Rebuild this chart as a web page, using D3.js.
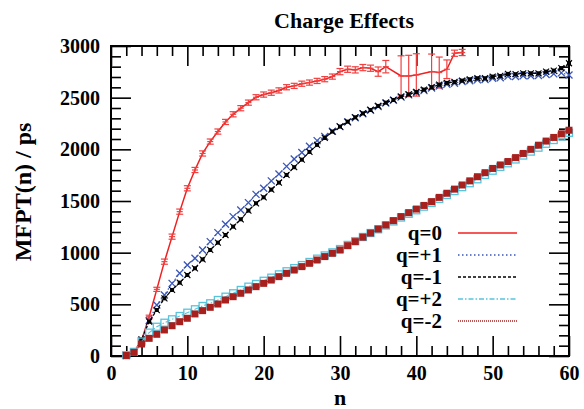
<!DOCTYPE html>
<html>
<head>
<meta charset="utf-8">
<script src="https://cdn.jsdelivr.net/npm/d3@7"></script>
<style>
  body { margin: 0; background: #fff; }
  text { font-family: "Liberation Serif", "DejaVu Serif", serif; font-weight: bold; }
</style>
</head>
<body>
<div id="chart"></div>
<script>
var width = 584, height = 409;
var margin = {top: 46, right: 15, bottom: 53, left: 111};

// n values shared by q=+1, -1, +2, -2
var nVals = [2,3,4,5,6,7,8,9,10,11,12,13,14,15,16,17,18,19,20,21,22,23,24,25,26,27,28,29,30,31,
  32,33,34,35,36,37,38,39,40,41,42,43,44,45,46,47,48,49,50,51,52,53,54,55,56,57,58,59,60];

// q=0 (with error bars)
var nQ0 = [2,3,4,5,6,7,8,9,10,11,12,13,14,15,16,17,18,19,20,21,22,23,24,25,26,27,28,29,30,31,
  32,33,34,35,36,38,39,40,42,43,44,45,46];
var q0 = [0,40,150,380,645,913,1155,1397,1623,1800,1960,2075,2172,2265,2339,2398,2452,2504,2530,2548,
  2570,2601,2614,2635,2646,2662,2679,2704,2752,2775,2769,2791,2785,2752,2800,2710,2710,2720,2752,2743,
  2775,2930,2937];
var q0Err = [5,8,10,15,20,25,25,25,25,25,25,25,25,25,25,25,25,25,25,25,
  25,25,25,25,25,25,25,25,30,30,30,30,30,45,60,195,200,205,170,150,
  90,30,30];

var qPlus1 = [5,35,150,345,494,590,703,800,881,946,1026,1107,1194,1275,1349,1413,1484,1564,1623,1695,
  1762,1835,1907,1970,2030,2084,2125,2175,2220,2265,2305,2345,2378,2415,2448,2475,2505,2527,2546,2568,
  2593,2613,2630,2640,2655,2663,2672,2675,2688,2693,2708,2705,2712,2712,2714,2725,2730,2740,2720];
var qMinus1 = [5,32,160,332,445,558,639,710,784,849,935,1026,1097,1171,1252,1323,1407,1478,1536,1610,
  1678,1752,1827,1900,1975,2043,2110,2172,2220,2268,2310,2348,2381,2420,2452,2478,2510,2532,2555,2578,
  2601,2626,2643,2652,2665,2678,2688,2688,2704,2710,2730,2727,2736,2736,2736,2752,2762,2785,2833];
var qPlus2 = [8,40,140,226,283,322,355,387,419,452,484,510,542,574,607,639,671,697,728,758,
  790,820,850,880,910,942,973,1003,1035,1075,1112,1152,1190,1226,1263,1302,1340,1376,1410,1445,
  1482,1520,1558,1596,1634,1672,1710,1752,1793,1830,1865,1902,1940,1978,2016,2054,2090,2125,2160];
var qMinus2 = [5,35,116,171,210,252,293,332,365,407,439,471,503,542,574,607,639,671,703,735,
  768,800,832,865,897,929,962,994,1026,1068,1107,1150,1190,1229,1268,1310,1349,1387,1422,1457,
  1494,1535,1575,1615,1655,1695,1735,1774,1815,1849,1882,1920,1960,2000,2040,2080,2115,2150,2185];

var xTicks = [0,10,20,30,40,50,60];
var yTicks = [0,500,1000,1500,2000,2500,3000];
var legendLabels = ["q=0","q=+1","q=-1","q=+2","q=-2"];

var svg = d3.select("#chart")
  .append("svg")
  .attr("width", width)
  .attr("height", height);

var xScale = d3.scaleLinear()
  .domain([0, 60])
  .range([margin.left, width - margin.right]);

var yScale = d3.scaleLinear()
  .domain([0, 3000])
  .range([height - margin.bottom, margin.top]);

var bigTick = 20, smallTick = 10;

// minor ticks, all four sides, pointing inward
function minorAxes() {
  var xMinor = d3.range(0, 61, 2).filter(d => d % 10 != 0);
  var yMinor = d3.range(0, 3001, 100).filter(d => d % 500 != 0);
  svg.append("g").attr("transform", `translate(0,${height - margin.bottom})`)
    .call(d3.axisBottom(xScale).tickValues(xMinor).tickSize(-smallTick).tickFormat(""));
  svg.append("g").attr("transform", `translate(0,${margin.top})`)
    .call(d3.axisTop(xScale).tickValues(xMinor).tickSize(-smallTick).tickFormat(""));
  svg.append("g").attr("transform", `translate(${margin.left},0)`)
    .call(d3.axisLeft(yScale).tickValues(yMinor).tickSize(-smallTick).tickFormat(""));
  svg.append("g").attr("transform", `translate(${width - margin.right},0)`)
    .call(d3.axisRight(yScale).tickValues(yMinor).tickSize(-smallTick).tickFormat(""));
}
minorAxes();

// major ticks
var xAxis = svg.append("g")
  .attr("class", "x-axis")
  .attr("transform", `translate(0,${height - margin.bottom})`)
  .call(d3.axisBottom(xScale).tickValues(xTicks).tickSize(-bigTick).tickPadding(10).tickFormat(d3.format("d")));
svg.append("g")
  .attr("transform", `translate(0,${margin.top})`)
  .call(d3.axisTop(xScale).tickValues(xTicks).tickSize(-bigTick).tickFormat(""));
var yAxis = svg.append("g")
  .attr("class", "y-axis")
  .attr("transform", `translate(${margin.left},0)`)
  .call(d3.axisLeft(yScale).tickValues(yTicks).tickSize(-bigTick).tickPadding(11).tickFormat(d3.format("d")));
svg.append("g")
  .attr("transform", `translate(${width - margin.right},0)`)
  .call(d3.axisRight(yScale).tickValues(yTicks).tickSize(-bigTick).tickFormat(""));

svg.selectAll(".tick line").attr("stroke", "#000").attr("stroke-width", 1.6);
svg.selectAll(".domain").remove();
svg.selectAll(".tick text")
  .style("font-size", "20px")
  .style("font-family", "'Liberation Serif', serif")
  .style("font-weight", "bold")
  .attr("fill", "#000");

// frame
svg.append("rect")
  .attr("x", margin.left)
  .attr("y", margin.top)
  .attr("width", width - margin.left - margin.right)
  .attr("height", height - margin.top - margin.bottom)
  .attr("fill", "none")
  .attr("stroke", "#000")
  .attr("stroke-width", 2);

// titles
svg.append("text")
  .attr("x", 344).attr("y", 28)
  .attr("text-anchor", "middle")
  .style("font-size", "22px")
  .text("Charge Effects");

svg.append("text")
  .attr("x", 340).attr("y", 405)
  .attr("text-anchor", "middle")
  .style("font-size", "22px")
  .text("n");

svg.append("text")
  .attr("transform", "translate(31,192) rotate(-90)")
  .attr("text-anchor", "middle")
  .style("font-size", "24px")
  .text("MFPT(n) / ps");

var plot = svg.append("g").attr("class", "lines");

function seriesLine(ns, vals) {
  return d3.line()
    .x((d, i) => xScale(ns[i]))
    .y(d => yScale(d))(vals);
}

// q=0 : solid red with error bars
var red = "#f02020";
plot.append("path")
  .attr("d", seriesLine(nQ0, q0))
  .attr("fill", "none")
  .attr("stroke", red)
  .attr("stroke-width", 1.5);

var errG = plot.append("g").attr("stroke", "#f04040").attr("stroke-width", 1.2);
q0.forEach(function(v, i) {
  var cx = xScale(nQ0[i]);
  var top = yScale(v + q0Err[i]), bot = yScale(v - q0Err[i]);
  errG.append("line").attr("x1", cx).attr("x2", cx).attr("y1", top).attr("y2", bot);
  errG.append("line").attr("x1", cx - 3.5).attr("x2", cx + 3.5).attr("y1", top).attr("y2", top);
  errG.append("line").attr("x1", cx - 3.5).attr("x2", cx + 3.5).attr("y1", bot).attr("y2", bot);
  errG.append("line").attr("x1", cx - 3).attr("x2", cx + 3).attr("y1", yScale(v)).attr("y2", yScale(v));
});

// q=+1 : blue dotted, x markers
var blue = "#3a56b8";
plot.append("path")
  .attr("d", seriesLine(nVals, qPlus1))
  .attr("fill", "none")
  .attr("stroke", blue)
  .attr("stroke-width", 1.2)
  .attr("stroke-dasharray", "1.5,2.5");
plot.append("g").selectAll("path")
  .data(qPlus1)
  .enter()
  .append("path")
  .attr("transform", (d, i) => `translate(${xScale(nVals[i])},${yScale(d)})`)
  .attr("d", "M-3.5,-3.5L3.5,3.5M-3.5,3.5L3.5,-3.5")
  .attr("stroke", blue)
  .attr("stroke-width", 1.3);

// q=-1 : black dashed, small filled markers
plot.append("path")
  .attr("d", seriesLine(nVals, qMinus1))
  .attr("fill", "none")
  .attr("stroke", "#000")
  .attr("stroke-width", 1.2)
  .attr("stroke-dasharray", "3,2");
var blk = plot.append("g").selectAll("g")
  .data(qMinus1)
  .enter()
  .append("g")
  .attr("transform", (d, i) => `translate(${xScale(nVals[i])},${yScale(d)})`);
blk.append("rect")
  .attr("x", -2).attr("y", -2).attr("width", 4).attr("height", 4)
  .attr("fill", "#000");
blk.append("path")
  .attr("d", "M-3,-3L3,3M-3,3L3,-3")
  .attr("stroke", "#000")
  .attr("stroke-width", 1.1);

// q=+2 : cyan dash-dot, open squares
var cyan = "#58c4dc";
plot.append("path")
  .attr("d", seriesLine(nVals, qPlus2))
  .attr("fill", "none")
  .attr("stroke", cyan)
  .attr("stroke-width", 1.2)
  .attr("stroke-dasharray", "5,2,1.5,2");
plot.append("g").selectAll("rect")
  .data(qPlus2)
  .enter()
  .append("rect")
  .attr("x", (d, i) => xScale(nVals[i]) - 3.5)
  .attr("y", d => yScale(d) - 3.5)
  .attr("width", 7).attr("height", 7)
  .attr("fill", "none")
  .attr("stroke", cyan)
  .attr("stroke-width", 1.3);

// q=-2 : dark red dotted, filled squares
var dred = "#a8201e";
plot.append("path")
  .attr("d", seriesLine(nVals, qMinus2))
  .attr("fill", "none")
  .attr("stroke", dred)
  .attr("stroke-width", 1.2)
  .attr("stroke-dasharray", "1,1");
plot.append("g").selectAll("rect")
  .data(qMinus2)
  .enter()
  .append("rect")
  .attr("x", (d, i) => xScale(nVals[i]) - 3.5)
  .attr("y", d => yScale(d) - 3.5)
  .attr("width", 7).attr("height", 7)
  .attr("fill", dred);

// legend
var legendStyles = [
  {stroke: red, dash: null, w: 1.5},
  {stroke: blue, dash: "1.5,2.5", w: 1.5},
  {stroke: "#000", dash: "3,2", w: 1.5},
  {stroke: cyan, dash: "5,2,1.5,2", w: 1.5},
  {stroke: dred, dash: "1,1", w: 1.5}
];
var legend = svg.append("g").attr("class", "legend");
legendLabels.forEach(function(lbl, i) {
  var ly = 233 + i * 22;
  legend.append("text")
    .attr("x", 442).attr("y", ly + 7)
    .attr("text-anchor", "end")
    .style("font-size", "21px")
    .text(lbl);
  legend.append("line")
    .attr("x1", 458).attr("x2", 517)
    .attr("y1", ly).attr("y2", ly)
    .attr("stroke", legendStyles[i].stroke)
    .attr("stroke-width", legendStyles[i].w)
    .attr("stroke-dasharray", legendStyles[i].dash);
});
</script>
</body>
</html>
